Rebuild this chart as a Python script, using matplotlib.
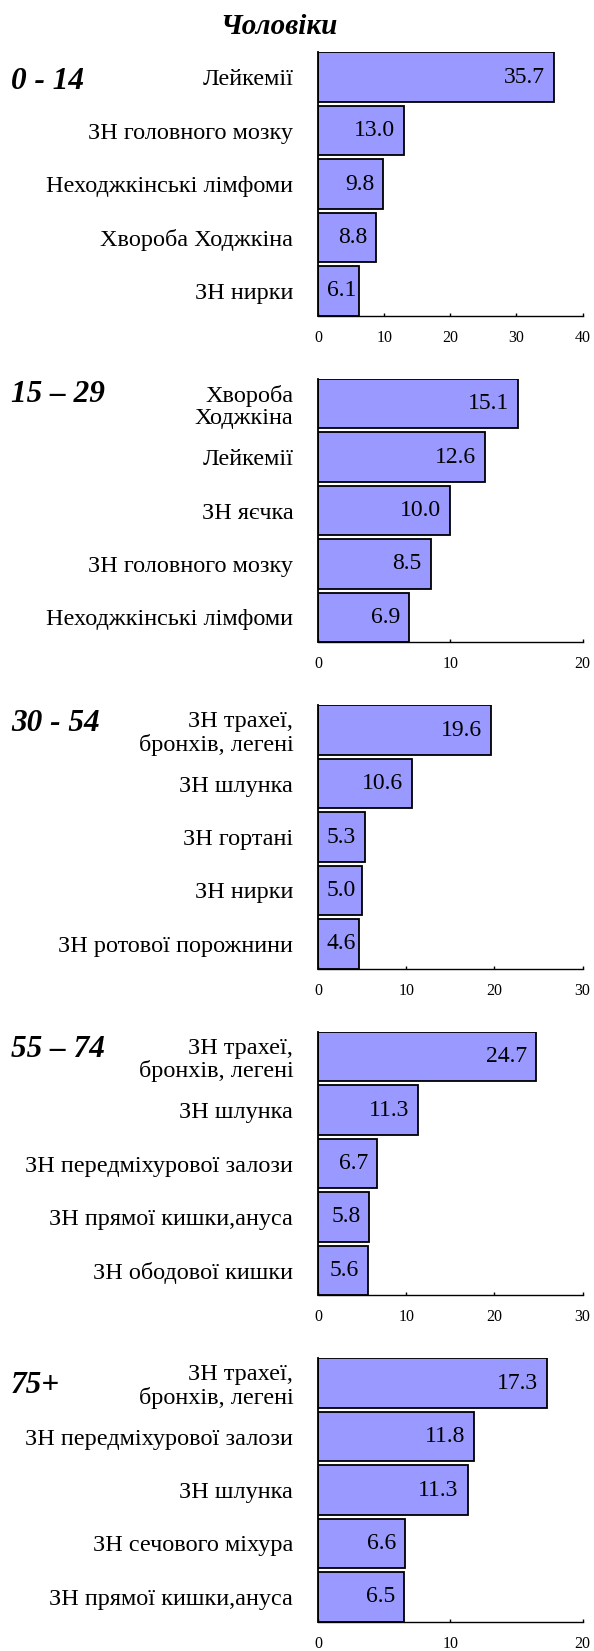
import matplotlib.pyplot as plt

plt.rcParams['font.family'] = ['Liberation Serif', 'DejaVu Serif']

# Дані: п'ять вікових груп, по п'ять найчастіших локалізацій
groups = ["0 - 14", "15 – 29", "30 - 54", "55 – 74", "75+"]

labels_0_14 = ["Лейкемії", "ЗН головного мозку", "Неходжкінські лімфоми",
               "Хвороба Ходжкіна", "ЗН нирки"]
values_0_14 = [35.7, 13.0, 9.8, 8.8, 6.1]

labels_15_29 = ["Хвороба\nХоджкіна", "Лейкемії", "ЗН яєчка",
                "ЗН головного мозку", "Неходжкінські лімфоми"]
values_15_29 = [15.1, 12.6, 10.0, 8.5, 6.9]

labels_30_54 = ["ЗН трахеї,\nбронхів, легені", "ЗН шлунка", "ЗН гортані",
                "ЗН нирки", "ЗН ротової порожнини"]
values_30_54 = [19.6, 10.6, 5.3, 5.0, 4.6]

labels_55_74 = ["ЗН трахеї,\nбронхів, легені", "ЗН шлунка",
                "ЗН передміхурової залози", "ЗН прямої кишки,ануса",
                "ЗН ободової кишки"]
values_55_74 = [24.7, 11.3, 6.7, 5.8, 5.6]

labels_75 = ["ЗН трахеї,\nбронхів, легені", "ЗН передміхурової залози",
             "ЗН шлунка", "ЗН сечового міхура", "ЗН прямої кишки,ануса"]
values_75 = [17.3, 11.8, 11.3, 6.6, 6.5]

x_max = [40, 20, 30, 30, 20]

all_labels = [labels_0_14, labels_15_29, labels_30_54, labels_55_74, labels_75]
all_values = [values_0_14, values_15_29, values_30_54, values_55_74, values_75]

# Розмітка у пікселях
W, H = 594, 1651
fig = plt.figure(figsize=(W / 100, H / 100), dpi=100)

ax_left, ax_right = 318.3, 582.5
first_top, step, ax_h = 52.3, 326.5, 263.4
group_label_dy = [29.5, 16, 18, 18, 27]

fig.text(279 / W, 1 - 27 / H, "Чоловіки", ha="center", va="center",
         fontsize=21, fontweight="bold", fontstyle="italic")

for k in range(5):
    top = first_top + step * k
    ax = fig.add_axes([ax_left / W, 1 - (top + ax_h) / H,
                       (ax_right - ax_left) / W, ax_h / H])
    vals = all_values[k]
    pos = list(range(len(vals)))
    ax.barh(pos, vals, height=0.925, color="#9999FF", edgecolor="black",
            linewidth=1.3)
    ax.set_ylim(4.4625, -0.4625)
    ax.set_xlim(0, x_max[k])
    ax.set_xticks(range(0, x_max[k] + 1, 10))
    ax.set_yticks(pos)
    ax.set_yticklabels(all_labels[k], fontsize=17.5, linespacing=1.1)
    ax.tick_params(axis="y", length=0, pad=18)
    ax.tick_params(axis="x", direction="in", length=2.5, width=1,
                   pad=10, labelsize=11.5)
    for s in ["top", "right"]:
        ax.spines[s].set_visible(False)
    ax.spines["bottom"].set_linewidth(1.0)
    ax.spines["left"].set_linewidth(1.3)

    # значення всередині кінця стовпчика
    x0 = ax.transData.transform((0, 0))[0]
    for i, v in enumerate(vals):
        xe = ax.transData.transform((v, 0))[0]
        dx = max(-9, (x0 + 38) - xe)
        ax.annotate(f"{v:.1f}", xy=(v, i), xytext=(dx, 0),
                    textcoords="offset pixels", ha="right", va="center",
                    fontsize=17)

    fig.text(11 / W, 1 - (top + group_label_dy[k]) / H, groups[k],
             ha="left", va="center", fontsize=22.5, fontweight="bold",
             fontstyle="italic")

fig.savefig("out.png", dpi=100)
